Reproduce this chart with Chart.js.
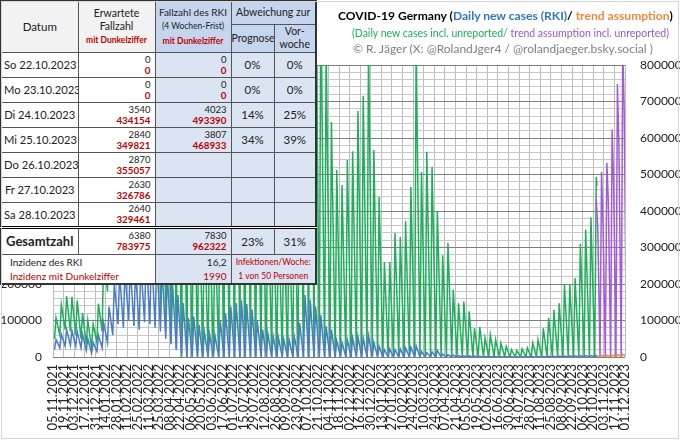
<!DOCTYPE html>
<html>
<head>
<meta charset="utf-8">
<script src="https://cdn.jsdelivr.net/npm/chart.js@4.4.1/dist/chart.umd.min.js"></script>
<style>
  html, body { margin: 0; padding: 0; background: #fff; }
  #wrap { position: relative; width: 680px; height: 440px; overflow: hidden; font-family: Lato, "Noto Sans", sans-serif; }
  #chart { position: absolute; left: 0; top: 0; }
  #frame { position: absolute; left: 1px; top: 1px; width: 676px; height: 436px; border: 1px solid #d4d4d4; pointer-events: none; }
  .t { position: absolute; white-space: nowrap; }
  #t1 { left: 338px; top: 8px; font-size: 12.1px; font-weight: bold; color: #000; }
  #t2 { left: 352px; top: 27px; font-size: 10.5px; }
  #t3 { left: 353px; top: 41px; font-size: 12px; color: #808080; }
  table { position: absolute; left: 0; top: 0; width: 315px; height: 284px; border-collapse: collapse; table-layout: fixed; background: #fff; border: 2px solid #333; }
  td { border: 1px solid #555; padding: 0 2px; overflow: hidden; white-space: nowrap; font-size: 11px; color: #222; box-sizing: border-box; }
  .hd { background: #f2f2f2; text-align: center; line-height: 13px; }
  .hb { background: #c6d5ee; text-align: center; line-height: 13px; }
  .bl { background: #dbe4f3; }
  .dt { text-align: center; font-size: 11.2px; }
  .num { text-align: right; line-height: 11px; padding-right: 4px; }
  .num .a { font-size: 9.5px; color: #222; }
  .num .b { font-size: 9.8px; font-weight: bold; color: #c00000; }
  .pc { text-align: center; font-size: 11.5px; }
  .red { color: #c00000; }
  .sm { font-size: 8.5px; }
</style>
</head>
<body>
<div id="wrap">
  <canvas id="chart" width="680" height="440"></canvas>

  <div class="t" id="t1">COVID-19 Germany (<span style="color:#2f75c9">Daily new cases (RKI)</span>/ <span style="color:#f0883e">trend assumption</span>)</div>
  <div class="t" id="t2"><span style="color:#1fae5b">(Daily new cases incl. unreported/</span> <span style="color:#9b55d3">trend assumption incl. unreported)</span></div>
  <div class="t" id="t3">© R. Jäger (X: @RolandJger4 / @rolandjaeger.bsky.social )</div>

  <table>
    <colgroup><col style="width:77px"><col style="width:77px"><col style="width:76px"><col style="width:43px"><col style="width:42px"></colgroup>
    <tr style="height:23px">
      <td class="hd" rowspan="2" style="font-size:11.5px">Datum</td>
      <td class="hd" rowspan="2" style="font-size:10.5px">Erwartete<br>Fallzahl<br><span class="red sm" style="font-weight:bold">mit Dunkelziffer</span></td>
      <td class="hb" rowspan="2" style="font-size:10px">Fallzahl des RKI<br><span style="font-size:8.5px;line-height:15px">(4 Wochen-Frist)</span><br><span class="red sm" style="font-weight:bold">mit Dunkelziffer</span></td>
      <td class="hb" colspan="2" style="font-size:10.5px">Abweichung zur</td>
    </tr>
    <tr style="height:28px">
      <td class="hb" style="font-size:10.5px;padding:0">Prognose</td>
      <td class="hb" style="font-size:10.5px">Vor-<br>woche</td>
    </tr>
    <tr style="height:25px"><td class="dt">So 22.10.2023</td><td class="num"><div class="a">0</div><div class="b">0</div></td><td class="num bl"><div class="a">0</div><div class="b">0</div></td><td class="pc bl">0%</td><td class="pc bl">0%</td></tr>
    <tr style="height:25px"><td class="dt">Mo 23.10.2023</td><td class="num"><div class="a">0</div><div class="b">0</div></td><td class="num bl"><div class="a">0</div><div class="b">0</div></td><td class="pc bl">0%</td><td class="pc bl">0%</td></tr>
    <tr style="height:25px"><td class="dt">Di 24.10.2023</td><td class="num"><div class="a">3540</div><div class="b">434154</div></td><td class="num bl"><div class="a">4023</div><div class="b">493390</div></td><td class="pc bl">14%</td><td class="pc bl">25%</td></tr>
    <tr style="height:25px"><td class="dt">Mi 25.10.2023</td><td class="num"><div class="a">2840</div><div class="b">349821</div></td><td class="num bl"><div class="a">3807</div><div class="b">468933</div></td><td class="pc bl">34%</td><td class="pc bl">39%</td></tr>
    <tr style="height:25px"><td class="dt">Do 26.10.2023</td><td class="num"><div class="a">2870</div><div class="b">355057</div></td><td class="bl"></td><td class="bl"></td><td class="bl"></td></tr>
    <tr style="height:25px"><td class="dt">Fr 27.10.2023</td><td class="num"><div class="a">2630</div><div class="b">326786</div></td><td class="bl"></td><td class="bl"></td><td class="bl"></td></tr>
    <tr style="height:25px"><td class="dt">Sa 28.10.2023</td><td class="num"><div class="a">2640</div><div class="b">329461</div></td><td class="bl"></td><td class="bl"></td><td class="bl"></td></tr>
    <tr style="height:27px; border-top:3px double #000">
      <td style="font-weight:bold;font-size:13px;text-align:center">Gesamtzahl</td>
      <td class="num"><div class="a">6380</div><div class="b">783975</div></td>
      <td class="num bl"><div class="a">7830</div><div class="b">962322</div></td>
      <td class="pc bl">23%</td><td class="pc bl">31%</td>
    </tr>
    <tr style="height:29px">
      <td colspan="2" style="font-size:10px;line-height:14px;padding-left:8px">Inzidenz des RKI<br><span class="red">Inzidenz mit Dunkelziffer</span></td>
      <td class="bl" style="text-align:right;font-size:10px;line-height:14px;padding-right:4px">16,2<br><span class="red">1990</span></td>
      <td class="bl red" colspan="2" style="text-align:center;font-size:8.5px;line-height:14px;padding:0">Infektionen/Woche:<br>1 von 50 Personen</td>
    </tr>
  </table>

  <div id="frame"></div>
</div>

<script>
// x-axis tick labels, one every 14 days starting 05.11.2021
const tickLabels = [
  "05.11.2021", "19.11.2021", "03.12.2021", "17.12.2021", "31.12.2021",
  "14.01.2022", "28.01.2022", "11.02.2022", "25.02.2022", "11.03.2022", "25.03.2022",
  "08.04.2022", "22.04.2022", "06.05.2022", "20.05.2022", "03.06.2022", "17.06.2022",
  "01.07.2022", "15.07.2022", "29.07.2022", "12.08.2022", "26.08.2022", "09.09.2022",
  "23.09.2022", "07.10.2022", "21.10.2022", "04.11.2022", "18.11.2022", "02.12.2022",
  "16.12.2022", "30.12.2022", "13.01.2023", "27.01.2023", "10.02.2023", "24.02.2023",
  "10.03.2023", "24.03.2023", "07.04.2023", "21.04.2023", "05.05.2023", "19.05.2023",
  "02.06.2023", "16.06.2023", "30.06.2023", "14.07.2023", "28.07.2023", "11.08.2023",
  "25.08.2023", "08.09.2023", "22.09.2023", "06.10.2023", "20.10.2023", "03.11.2023",
  "17.11.2023", "01.12.2023"
];

// weekly values (week 0 = week of 05.11.2021): Tuesday peak and Sunday low
const rkiPeak = [
  48000, 62000, 75000, 72000, 70000, 62000, 50000, 40000, 60000, 93000,
  138000, 200000, 230000, 240000, 250000, 240000, 260000, 290000, 300000, 280000,
  250000, 230000, 200000, 170000, 148000, 107000, 111000, 88000, 70000, 62000,
  60000, 100000, 120000, 138000, 148000, 155000, 145000, 130000, 100000, 75000,
  65000, 57000, 52000, 48000, 48000, 55000, 93000, 170000, 157000, 138000,
  115000, 84000, 75000, 45000, 40000, 47000, 52000, 56000, 52000, 58000,
  40000, 29000, 20000, 22000, 20000, 22000, 25000, 27000, 30000, 15000,
  12000, 14000, 18000, 8000, 6000, 5000, 4000, 3500, 3000, 2500,
  2000, 1500, 1200, 1000, 900, 800, 700, 700, 800, 900,
  1000, 1200, 1500, 1800, 2000, 2300, 2600, 3000, 3300, 3600,
  3800, 3900, 4023
];
const rkiLow = [
  20000, 25000, 30000, 32000, 30000, 25000, 18000, 10000, 15000, 25000,
  40000, 60000, 90000, 80000, 100000, 85000, 75000, 95000, 90000, 80000,
  70000, 50000, 35000, 20000, 8000, 0, 0, 0, 0, 0,
  0, 0, 0, 0, 0, 0, 0, 0, 0, 0,
  0, 0, 0, 0, 0, 0, 0, 0, 0, 0,
  0, 0, 0, 0, 0, 0, 0, 0, 0, 0,
  0, 0, 0, 0, 0, 0, 0, 0, 0, 0,
  0, 0, 0, 0, 0, 0, 0, 0, 0, 0,
  0, 0, 0, 0, 0, 0, 0, 0, 0, 0,
  0, 0, 0, 0, 0, 0, 0, 0, 0, 0,
  0, 0, 0
];
const darkPeak = [
  107000, 143000, 167000, 165000, 155000, 120000, 100000, 90000, 146000, 290000,
  520000, 820000, 950000, 1000000, 1050000, 1000000, 1080000, 1200000, 1250000, 1150000,
  1050000, 950000, 850000, 750000, 700000, 560000, 600000, 480000, 400000, 380000,
  380000, 650000, 800000, 900000, 950000, 1000000, 950000, 850000, 700000, 540000,
  480000, 430000, 400000, 390000, 400000, 470000, 800000, 1400000, 1300000, 1150000,
  1000000, 850000, 644000, 512000, 471000, 540000, 564000, 674000, 715000, 850000,
  567000, 438000, 260000, 260000, 340000, 329000, 372000, 466000, 850000, 507000,
  562000, 521000, 400000, 279000, 312000, 184000, 147000, 152000, 125000, 79000,
  82000, 52000, 61000, 47000, 38000, 29000, 20000, 18000, 22000, 25000,
  38000, 47000, 79000, 107000, 129000, 147000, 197000, 197000, 216000, 310000,
  349000, 383000, 493390
];
const darkLow = [
  50000, 60000, 75000, 70000, 60000, 50000, 35000, 25000, 40000, 70000,
  180000, 300000, 380000, 350000, 400000, 380000, 350000, 420000, 400000, 220000,
  120000, 70000, 40000, 20000, 0, 0, 0, 0, 0, 0,
  0, 0, 0, 0, 0, 0, 0, 0, 0, 0,
  0, 0, 0, 0, 0, 0, 0, 0, 0, 0,
  0, 0, 0, 0, 0, 0, 0, 0, 0, 0,
  0, 0, 0, 0, 0, 0, 0, 0, 0, 0,
  0, 0, 0, 0, 0, 0, 0, 0, 0, 0,
  0, 0, 0, 0, 0, 0, 0, 0, 0, 0,
  0, 0, 0, 0, 0, 0, 0, 0, 0, 0,
  0, 0, 0
];
// last reported day, Mi 25.10.2023
const rkiLast = 3807;
const darkLast = 468933;

// trend weeks from Di 24.10.2023: Tuesday peak, Thursday value, Sunday low
const trendPeak = [3540, 4100, 4400, 5100, 6100, 6900];
const trendMid = [2870, 2900, 3500, 3900, 4700, 5400];
const trendLow = [0, 0, 0, 0, 0, 0];
const trendDarkPeak = [434154, 507000, 532000, 623000, 748000, 850000];
const trendDarkMid = [355057, 360000, 425000, 475000, 575000, 670000];
const trendDarkLow = [0, 0, 0, 0, 0, 0];

const TREND_START = 718; // days after 05.11.2021

function weekPoints(low, peak, lastValue) {
  const pts = [];
  low.forEach((v, w) => {
    pts.push({ x: 7 * w + 2, y: v });
    pts.push({ x: 7 * w + 4, y: peak[w] });
  });
  pts.push({ x: 7 * (peak.length - 1) + 5, y: lastValue });
  return pts;
}

function trendPoints(peak, mid, low) {
  const pts = [];
  peak.forEach((v, t) => {
    const d = TREND_START + 7 * t;
    pts.push({ x: d, y: v });
    pts.push({ x: d + 2, y: mid[t] });
    pts.push({ x: d + 5, y: low[t] });
  });
  return pts;
}

const axisFont = { family: "Lato", size: 12 };
const line = (data, color, width) => ({
  data, borderColor: color, borderWidth: width, pointRadius: 0, tension: 0, fill: false
});

new Chart(document.getElementById("chart"), {
  type: "line",
  data: {
    datasets: [
      line(weekPoints(rkiLow, rkiPeak, rkiLast), "#4a7bc8", 1.5),
      line(trendPoints(trendPeak, trendMid, trendLow), "#f0883e", 1.5),
      line(trendPoints(trendDarkPeak, trendDarkMid, trendDarkLow), "#a35bd8", 1.5),
      line(weekPoints(darkLow, darkPeak, darkLast), "#1fae5b", 1.5)
    ]
  },
  options: {
    responsive: false,
    animation: false,
    layout: { padding: { top: 65 } },
    plugins: { legend: { display: false }, tooltip: { enabled: false } },
    scales: {
      x: {
        type: "linear",
        min: 0,
        max: 14 * (tickLabels.length - 1),
        border: { display: false },
        grid: { color: "#bdbdbd", drawTicks: false },
        ticks: {
          stepSize: 14,
          autoSkip: false,
          maxRotation: 90,
          minRotation: 90,
          padding: 7,
          color: "#222",
          font: { family: "Lato", size: 13 },
          callback: v => tickLabels[Math.round(v / 14)]
        },
        afterFit: s => { s.height = 83; }
      },
      y: {
        position: "left",
        min: 0,
        max: 800000,
        border: { display: false },
        grid: {
          drawTicks: false,
          color: c => (c.tick.value % 100000 === 0 ? "#7f7f7f" : "#c8c8c8")
        },
        ticks: {
          stepSize: 20000,
          autoSkip: false,
          padding: 11,
          color: "#222",
          font: axisFont,
          callback: v => (v % 100000 === 0 ? v : "")
        },
        afterFit: s => { s.width = 53; }
      },
      y2: {
        position: "right",
        min: 0,
        max: 800000,
        border: { display: false },
        grid: { display: false, drawTicks: false },
        ticks: {
          stepSize: 100000,
          padding: 15,
          color: "#222",
          font: axisFont,
          callback: v => v
        },
        afterFit: s => { s.width = 55; }
      }
    }
  }
});
</script>
</body>
</html>
